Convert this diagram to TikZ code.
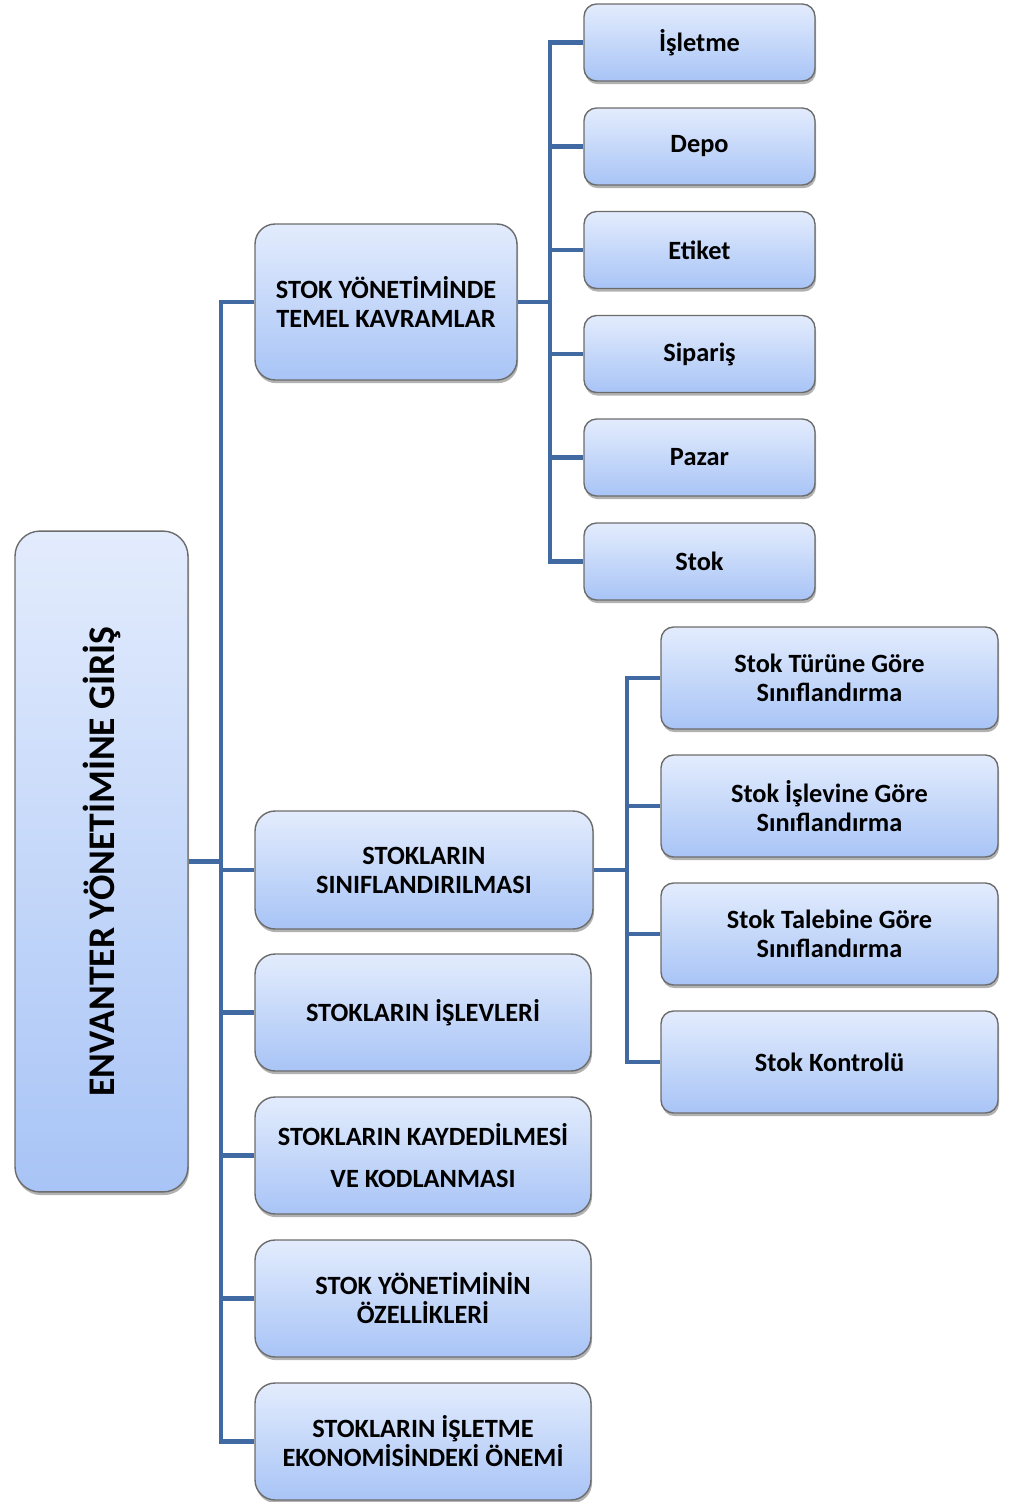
\documentclass[tikz,border=0pt]{standalone}
\usepackage{fontspec}
\setmainfont{Carlito}
\usetikzlibrary{shadows}
\definecolor{linkblue}{HTML}{4169A2}
\definecolor{boxtop}{HTML}{E3ECFD}
\definecolor{boxbottom}{HTML}{A8C4F6}
\tikzset{
  card/.style={draw=gray!85!black,line width=0.8pt,top color=boxtop,bottom color=boxbottom,
    drop shadow={shadow xshift=0.6pt,shadow yshift=-1.8pt,fill=black,opacity=0.3},
    align=center,inner sep=2pt,font=\fontsize{15}{16.5}\selectfont\bfseries},
  rootcard/.style={card,rounded corners=0.5cm,minimum width=3.46cm,minimum height=13.22cm,
    font=\fontsize{21.4}{24}\selectfont\bfseries},
  topcard/.style={card,rounded corners=0.4cm,minimum height=2.34cm},
  subcard/.style={card,rounded corners=0.25cm},
  link/.style={draw=linkblue,line width=2.6pt}
}
\begin{document}
\begin{tikzpicture}[x=0.02cm,y=-0.02cm]
\useasboundingbox (0,0) rectangle (1016,1502);
\node(root) at (101.5,861.5)[rootcard] {\rotatebox{90}{ENVANTER YÖNETİMİNE GİRİŞ}};
\node(temel) at (386,302)[topcard,minimum width=5.24cm,minimum height=3.12cm] {STOK YÖNETİMİNDE\\TEMEL KAVRAMLAR};
\node(sinif) at (424,870)[topcard,minimum width=6.76cm,minimum height=2.36cm] {STOKLARIN\\SINIFLANDIRILMASI};
\node(islev) at (423,1012.5)[topcard,minimum width=6.72cm] {STOKLARIN İŞLEVLERİ};
\node(kayit) at (423,1155.5)[topcard,minimum width=6.72cm] {STOKLARIN KAYDEDİLMESİ\\[7pt]VE KODLANMASI};
\node(ozel) at (423,1298.5)[topcard,minimum width=6.72cm] {STOK YÖNETİMİNİN\\ÖZELLİKLERİ};
\node(onem) at (423,1441.5)[topcard,minimum width=6.72cm] {STOKLARIN İŞLETME\\EKONOMİSİNDEKİ ÖNEMİ};
% temel kavramlar
\node(isletme) at (699.5,42.5)[subcard,minimum width=4.62cm,minimum height=1.54cm] {İşletme};
\node(depo) at (699.5,146.5)[subcard,minimum width=4.62cm,minimum height=1.54cm] {Depo};
\node(etiket) at (699.5,250)[subcard,minimum width=4.62cm,minimum height=1.54cm] {Etiket};
\node(siparis) at (699.5,354)[subcard,minimum width=4.62cm,minimum height=1.54cm] {Sipariş};
\node(pazar) at (699.5,457.5)[subcard,minimum width=4.62cm,minimum height=1.54cm] {Pazar};
\node(stok) at (699.5,561.5)[subcard,minimum width=4.62cm,minimum height=1.54cm] {Stok};
% siniflandirma
\node(tur) at (829.5,678)[subcard,minimum width=6.74cm,minimum height=2.04cm] {Stok Türüne Göre\\Sınıflandırma};
\node(isl) at (829.5,806)[subcard,minimum width=6.74cm,minimum height=2.04cm] {Stok İşlevine Göre\\Sınıflandırma};
\node(talep) at (829.5,934)[subcard,minimum width=6.74cm,minimum height=2.04cm] {Stok Talebine Göre\\Sınıflandırma};
\node(kontrol) at (829.5,1062)[subcard,minimum width=6.74cm,minimum height=2.04cm] {Stok Kontrolü};
\coordinate(t0) at (221,0);
\coordinate(t1) at (550,0);
\coordinate(t2) at (627,0);
\draw[link] (root.east) -- (root.east -| t0);
\draw[link] (temel.west) -| (onem.west -| t0) -- (onem.west);
\foreach \n in {sinif,islev,kayit,ozel}
  \draw[link] (\n.west) -- (\n.west -| t0);
\draw[link] (temel.east) -- (temel.east -| t1);
\draw[link] (isletme.west) -| (stok.west -| t1) -- (stok.west);
\foreach \n in {depo,etiket,siparis,pazar}
  \draw[link] (\n.west) -- (\n.west -| t1);
\draw[link] (sinif.east) -- (sinif.east -| t2);
\draw[link] (tur.west) -| (kontrol.west -| t2) -- (kontrol.west);
\foreach \n in {isl,talep}
  \draw[link] (\n.west) -- (\n.west -| t2);
\end{tikzpicture}
\end{document}
